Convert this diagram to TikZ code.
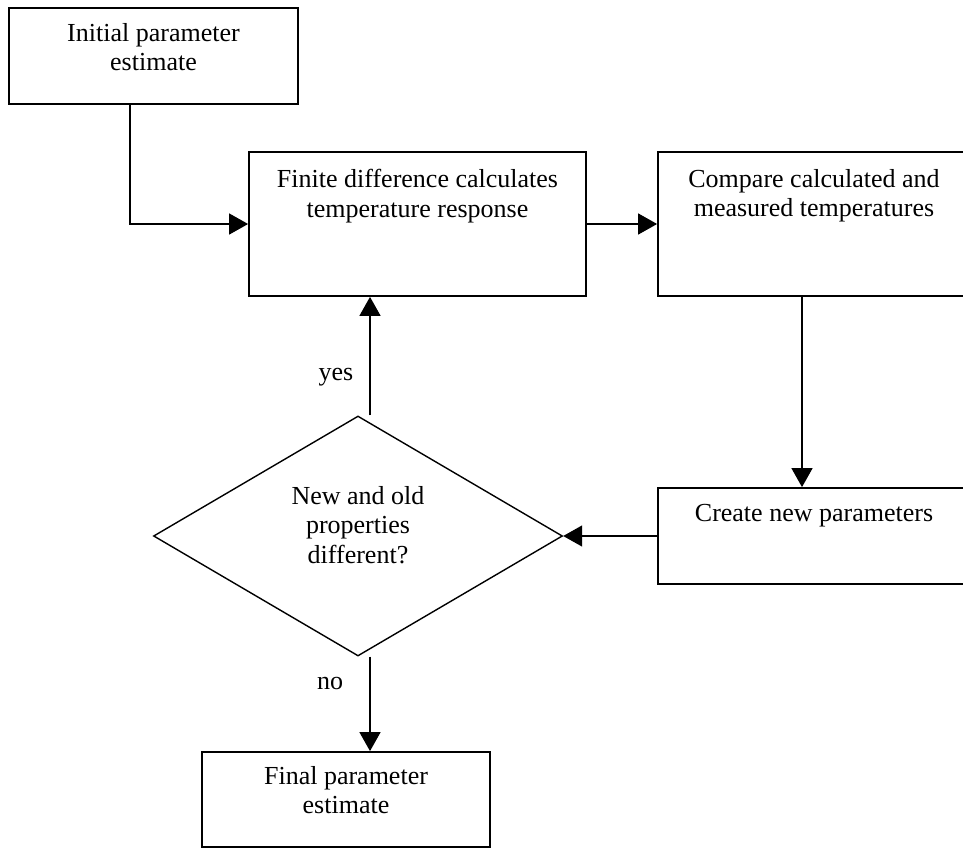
\documentclass[tikz,border=0pt]{standalone}
\usepackage{fontspec}
\setmainfont{Liberation Serif}
\usetikzlibrary{arrows.meta,shapes.geometric}
\begin{document}
\begin{tikzpicture}[x=1pt,y=-1pt,
  box/.style={draw,line width=1.8pt,rectangle,inner sep=0pt},
  txt/.style={inner sep=0pt,align=center,font=\fontsize{26}{29.5}\selectfont},
  arr/.style={line width=1.4pt,-{Triangle[length=19pt,width=21pt]}},
  dec/.style={draw,diamond,line width=1.4pt,inner sep=0pt,minimum width=409pt,minimum height=240pt}]
\useasboundingbox (0,0) rectangle (963,848);
% boxes
\node[box,minimum width=289pt,minimum height=96pt] (initB) at (153.5,56) {};
\node[box,minimum width=337pt,minimum height=144pt] (finB) at (417.5,224) {};
\node[box,minimum width=312pt,minimum height=144pt] (cmpB) at (814,224) {};
\node[box,minimum width=312pt,minimum height=96pt] (creB) at (814,536) {};
\node[dec] (dia) at (358,536) {};
\node[box,minimum width=288pt,minimum height=95pt] (finalB) at (346,799.5) {};
% texts
\node[txt,anchor=north] (initT) at (153.5,23) {Initial parameter\\estimate};
\node[txt,anchor=north] (finT) at (417.5,169) {Finite difference calculates\\temperature response};
\node[txt,anchor=north] (cmpT) at (814,169) {Compare calculated and\\measured temperatures};
\node[txt,anchor=base] (creT) at (814,521) {Create new parameters};
\node[txt,anchor=north] (diaT) at (358,486) {New and old\\properties\\different?};
\node[txt,anchor=north] (finalT) at (346,766) {Final parameter\\estimate};
\node[txt,anchor=base] (yesT) at (336,380) {yes};
\node[txt,anchor=base] (noT) at (330,689) {no};
% connectors
\draw[arr] ([xshift=-23.5pt]initB.south) |- (finB.west);
\draw[arr] (finB.east) -- (cmpB.west);
\draw[arr] ([xshift=-12pt]cmpB.south) -- ([xshift=-12pt]creB.north);
\draw[arr] (creB.west) -- (dia.east);
\draw[arr] ([xshift=12pt]dia.north) -- ([xshift=12pt]dia.north |- finB.south);
\draw[arr] ([xshift=12pt]dia.south) -- ([xshift=12pt]dia.south |- finalB.north);
\end{tikzpicture}
\end{document}
